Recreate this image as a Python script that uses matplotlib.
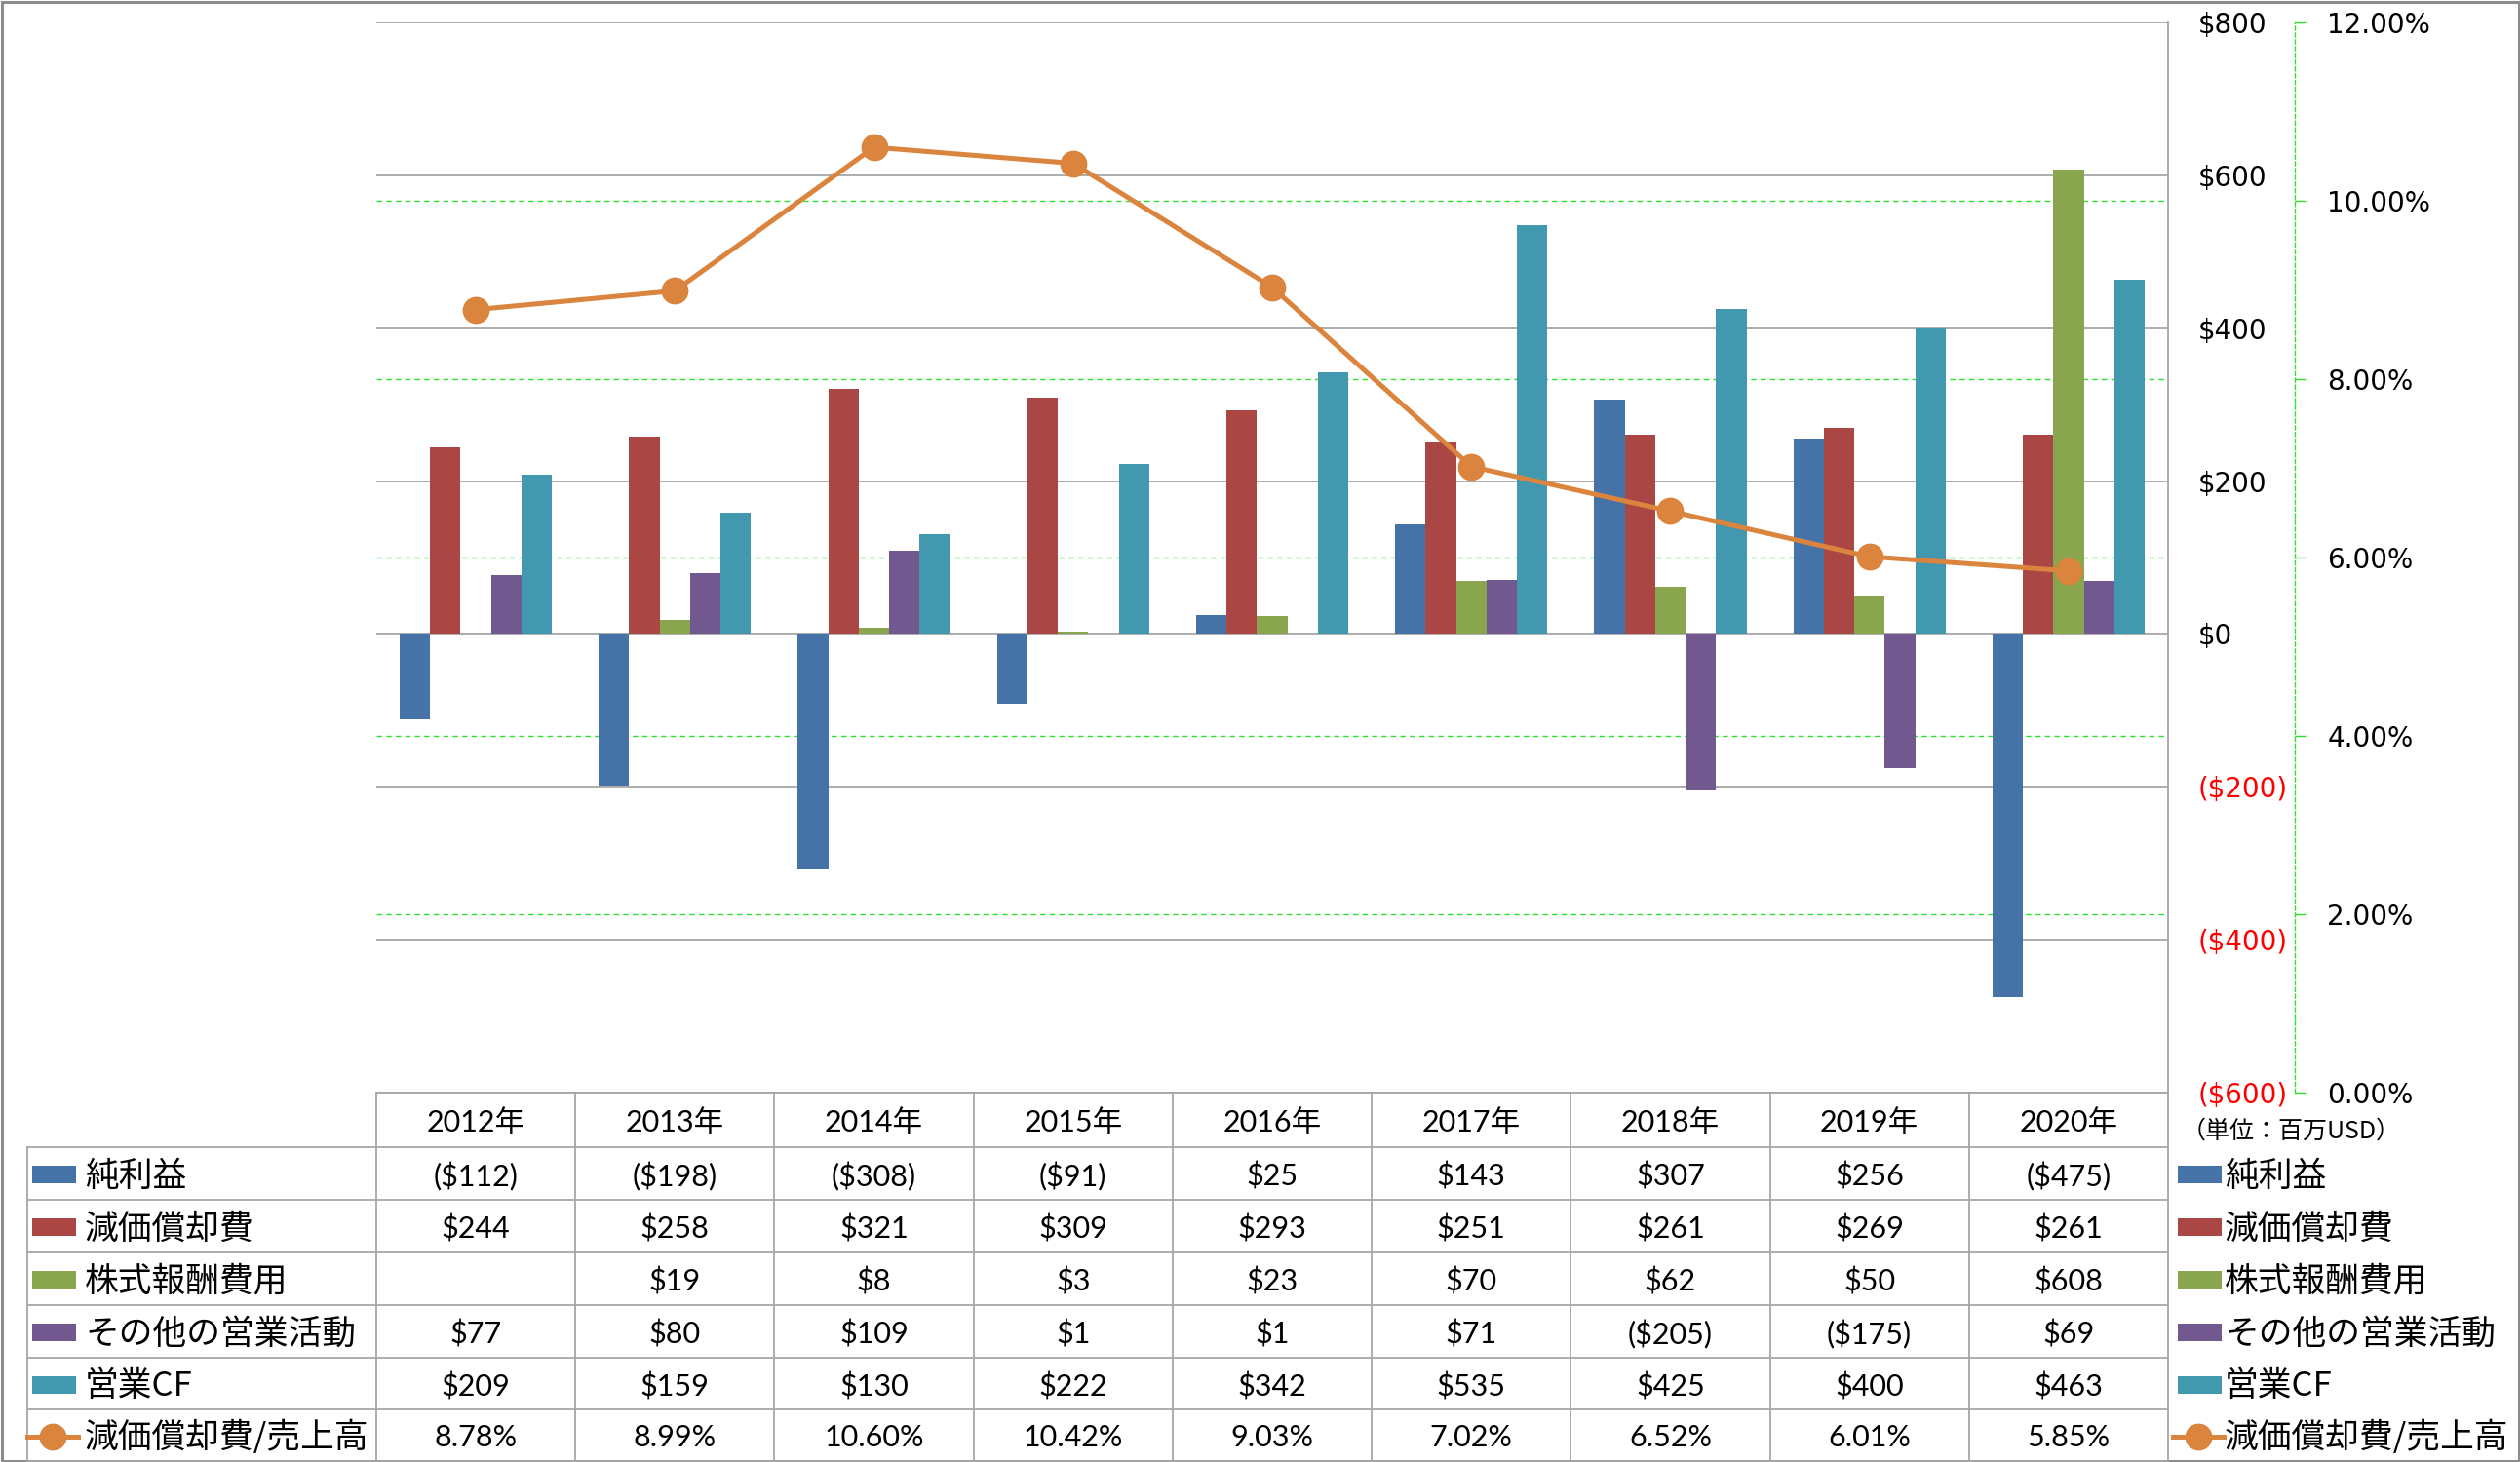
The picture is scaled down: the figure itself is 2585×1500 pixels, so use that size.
import matplotlib
matplotlib.use("Agg")
import matplotlib.pyplot as plt
import matplotlib.transforms as mtransforms
from matplotlib.patches import Rectangle
import numpy as np

plt.rcParams['text.parse_math'] = False

# data (million USD)
years = ["2012年", "2013年", "2014年", "2015年", "2016年", "2017年", "2018年", "2019年", "2020年"]
net_income = [-112, -198, -308, -91, 25, 143, 307, 256, -475]
depreciation = [244, 258, 321, 309, 293, 251, 261, 269, 261]
stock_comp = [None, 19, 8, 3, 23, 70, 62, 50, 608]
other_ops = [77, 80, 109, 1, 1, 71, -205, -175, 69]
operating_cf = [209, 159, 130, 222, 342, 535, 425, 400, 463]
dep_ratio = [8.78, 8.99, 10.60, 10.42, 9.03, 7.02, 6.52, 6.01, 5.85]  # %

bar_names = ["純利益", "減価償却費", "株式報酬費用", "その他の営業活動", "営業CF"]
line_name = "減価償却費/売上高"
usd_ticks = [-600, -400, -200, 0, 200, 400, 600, 800]
pct_ticks = [0, 2, 4, 6, 8, 10, 12]
unit_note = "（単位：百万USD）"

bar_colors = ["#4572A7", "#AA4643", "#89A54E", "#71588F", "#4198AF"]
line_color = "#DB843D"
JP = ["Noto Sans CJK JP"]
NUM = ["Lato", "Noto Sans CJK JP"]
GRAY = "#A6A6A6"
GREEN = "#2EE02E"


def usd(v):
    if v is None:
        return ""
    return f"(${-v})" if v < 0 else f"${v}"


W, H = 2585, 1500
fig = plt.figure(figsize=(W / 100, H / 100), dpi=100)

# plot area in pixels
L, R, T, B = 386, 2224, 23, 1121
ax = fig.add_axes([L / W, 1 - B / H, (R - L) / W, (B - T) / H])
ax2 = ax.twinx()

series = [net_income, depreciation, stock_comp, other_ops, operating_cf]
x = np.arange(len(years))
bw = 0.153
for i, (vals, c) in enumerate(zip(series, bar_colors)):
    v = [np.nan if a is None else a for a in vals]
    ax.bar(x + (i - 2) * bw, v, bw, color=c, zorder=3)

# green dashed gridlines for the % axis (behind bars)
trans = mtransforms.blended_transform_factory(ax.transAxes, ax2.transData)
for p in pct_ticks[1:-1]:
    ax.plot([0, 1], [p, p], transform=trans, color=GREEN, lw=1.0,
            ls=(0, (4, 3)), zorder=1)

ax.set_xlim(-0.5, 8.5)
ax.set_ylim(-600, 800)
ax.set_xticks([])
ax.yaxis.tick_right()
ax.set_yticks(usd_ticks)
ax.set_yticklabels([usd(v) for v in usd_ticks])
ax.tick_params(axis='y', length=0, pad=22, labelsize=20)
for lab, v in zip(ax.get_yticklabels(), usd_ticks):
    lab.set_color("red" if v < 0 else "black")
    lab.set_horizontalalignment("left")
ax.grid(axis='y', color=GRAY, lw=1.3, zorder=0)
ax.set_axisbelow(True)
for s in ["left", "top"]:
    ax.spines[s].set_visible(False)
ax.spines["right"].set_color(GRAY)
ax.spines["right"].set_linewidth(1.3)
ax.spines["bottom"].set_color(GRAY)
ax.spines["bottom"].set_linewidth(1.3)

ax2.plot(x, dep_ratio, color=line_color, lw=3.6, marker='o', ms=19, zorder=5)
ax2.set_ylim(0, 12)
ax2.set_yticks(pct_ticks)
ax2.set_yticklabels([f"{v:.2f}%" for v in pct_ticks])
ax2.spines["right"].set_position(("axes", (2354 - L) / (R - L)))
ax2.spines["right"].set_linestyle((0, (3, 2)))
ax2.spines["right"].set_color(GREEN)
ax2.spines["right"].set_linewidth(1.0)
for s in ["left", "top", "bottom"]:
    ax2.spines[s].set_visible(False)
ax2.tick_params(axis='y', direction='out', length=8, width=1.0, color=GREEN,
                pad=16, labelsize=20)

# overlay in pixel coordinates for the data table and legend
fa = fig.add_axes([0, 0, 1, 1])
fa.set_xlim(0, W)
fa.set_ylim(H, 0)
fa.axis("off")

row_edges = [1121, 1177, 1231, 1285, 1339, 1393, 1446, 1499]
cw = (R - L) / len(years)
col_edges = [L + k * cw for k in range(len(years) + 1)]
TL = 28
dy = 3  # text sits a little below the row centre

for y in row_edges[1:]:
    fa.plot([TL, R], [y, y], color=GRAY, lw=1.3)
for cx in col_edges:
    fa.plot([cx, cx], [row_edges[0], row_edges[-1]], color=GRAY, lw=1.3)
fa.plot([TL, TL], [row_edges[1], row_edges[-1]], color=GRAY, lw=1.3)

hy = (row_edges[0] + row_edges[1]) / 2 + dy
for k, yr in enumerate(years):
    fa.text(L + (k + 0.5) * cw, hy, yr, ha="center", va="center",
            fontsize=22, family=NUM)

rows = [[usd(v) for v in s] for s in series] + [[f"{v:.2f}%" for v in dep_ratio]]
names = bar_names + [line_name]
for r, (vals, name) in enumerate(zip(rows, names)):
    cy = (row_edges[r + 1] + row_edges[r + 2]) / 2
    for k, s in enumerate(vals):
        fa.text(L + (k + 0.5) * cw, cy + dy, s, ha="center", va="center",
                fontsize=22, family=NUM)
    # left keys + right legend
    for kx, tx in [(33, 87), (2234, 2282)]:
        if r < len(bar_names):
            fa.add_patch(Rectangle((kx, cy - 8), 45, 18, color=bar_colors[r], lw=0))
        else:
            fa.plot([kx - 5, kx + 47], [cy + 1, cy + 1], color=line_color, lw=3.6)
            fa.plot([kx + 21], [cy + 1], marker='o', ms=19, color=line_color)
        fa.text(tx, cy + dy, name, ha="left", va="center", fontsize=25, family=JP)

fa.text(2238, 1161, unit_note, ha="left", va="center", fontsize=18, family=JP)

fa.add_patch(Rectangle((1.5, 1.5), W - 3, H - 3, fill=False, ec="#8C8C8C", lw=2.2))

fig.savefig("out.png", dpi=100)
